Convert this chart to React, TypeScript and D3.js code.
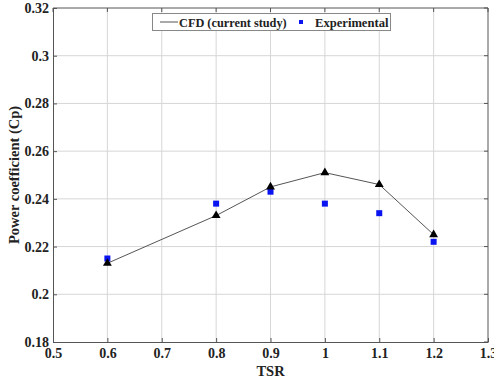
import { useEffect, useRef } from 'react'
import * as d3 from 'd3'

const tsr = [0.6, 0.8, 0.9, 1.0, 1.1, 1.2]
const cfd = [0.213, 0.233, 0.245, 0.251, 0.246, 0.225]
const experimental = [0.215, 0.238, 0.243, 0.238, 0.234, 0.222]
const xTicks = [0.5, 0.6, 0.7, 0.8, 0.9, 1, 1.1, 1.2, 1.3]
const yTicks = [0.18, 0.2, 0.22, 0.24, 0.26, 0.28, 0.3, 0.32]

function Chart({ width = 494, height = 380, marginTop = 8, marginRight = 6, marginBottom = 38, marginLeft = 53 }) {
    const ref = useRef<SVGSVGElement | null>(null)

    useEffect(() => {
        const svg = d3.select(ref.current)
        svg.selectAll("*").remove()

        const font = "'Liberation Serif', 'Times New Roman', serif"

        const x = d3.scaleLinear().domain([0.5, 1.3]).range([marginLeft, width - marginRight])
        const y = d3.scaleLinear().domain([0.18, 0.32]).range([height - marginBottom, marginTop])

        svg.append("rect")
            .attr("width", width).attr("height", height).attr("fill", "white")

        // grid
        svg.append("g")
            .selectAll("line")
            .data(xTicks.slice(1, -1))
            .join("line")
            .attr("x1", d => x(d)).attr("x2", d => x(d))
            .attr("y1", y(0.18)).attr("y2", y(0.32))
            .attr("stroke", "#d6d6d6").attr("stroke-width", 1)

        svg.append("g")
            .selectAll("line")
            .data(yTicks.slice(1, -1))
            .join("line")
            .attr("x1", x(0.5)).attr("x2", x(1.3))
            .attr("y1", d => y(d)).attr("y2", d => y(d))
            .attr("stroke", "#d6d6d6").attr("stroke-width", 1)

        // axes
        const xAxis = svg.append("g")
            .attr("transform", `translate(0,${height - marginBottom})`)
            .call(d3.axisBottom(x).tickValues(xTicks).tickFormat(d => String(d)).tickSizeInner(-4).tickSizeOuter(0).tickPadding(6))
        const yAxis = svg.append("g")
            .attr("transform", `translate(${marginLeft},0)`)
            .call(d3.axisLeft(y).tickValues(yTicks).tickFormat(d => String(d)).tickSizeInner(-4).tickSizeOuter(0).tickPadding(4))

        for (const g of [xAxis, yAxis]) {
            g.selectAll("path, line").attr("stroke", "#555")
            g.selectAll("text")
                .attr("fill", "#222")
                .attr("font-family", font)
                .attr("font-weight", "bold")
                .attr("font-size", 14)
        }

        // top and right box edges with inner ticks
        svg.append("line")
            .attr("x1", x(0.5)).attr("x2", x(1.3)).attr("y1", y(0.32)).attr("y2", y(0.32))
            .attr("stroke", "#555")
        svg.append("line")
            .attr("x1", x(1.3)).attr("x2", x(1.3)).attr("y1", y(0.32)).attr("y2", y(0.18))
            .attr("stroke", "#555")
        svg.append("g")
            .selectAll("line")
            .data(yTicks)
            .join("line")
            .attr("x1", x(1.3) - 4).attr("x2", x(1.3))
            .attr("y1", d => y(d)).attr("y2", d => y(d))
            .attr("stroke", "#555")
        svg.append("g")
            .selectAll("line")
            .data(xTicks)
            .join("line")
            .attr("x1", d => x(d)).attr("x2", d => x(d))
            .attr("y1", y(0.32)).attr("y2", y(0.32) + 4)
            .attr("stroke", "#555")

        // axis titles
        svg.append("text")
            .attr("x", (x(0.5) + x(1.3)) / 2).attr("y", 376)
            .attr("text-anchor", "middle")
            .attr("font-family", font).attr("font-weight", "bold").attr("font-size", 14.5)
            .attr("fill", "#222")
            .text("TSR")
        svg.append("text")
            .attr("transform", `translate(19,${(y(0.18) + y(0.32)) / 2}) rotate(-90)`)
            .attr("text-anchor", "middle")
            .attr("font-family", font).attr("font-weight", "bold").attr("font-size", 14.5)
            .attr("fill", "#222")
            .text("Power coefficient (Cp)")

        // CFD line
        const pts = tsr.map((t, i) => [t, cfd[i]] as [number, number])
        svg.append("path")
            .datum(pts)
            .attr("fill", "none")
            .attr("stroke", "#555")
            .attr("stroke-width", 1)
            .attr("d", d3.line<[number, number]>().x(d => x(d[0])).y(d => y(d[1])))

        // experimental squares
        svg.append("g")
            .selectAll("rect")
            .data(tsr.map((t, i) => [t, experimental[i]]))
            .join("rect")
            .attr("x", d => x(d[0]) - 3).attr("y", d => y(d[1]) - 3)
            .attr("width", 6).attr("height", 6)
            .attr("fill", "#0a14f0")

        // CFD triangles
        svg.append("g")
            .selectAll("path")
            .data(pts)
            .join("path")
            .attr("transform", d => `translate(${x(d[0])},${y(d[1])})`)
            .attr("d", d3.symbol(d3.symbolTriangle, 34)())
            .attr("fill", "black")

        // legend
        const lg = svg.append("g")
        lg.append("rect")
            .attr("x", 152.5).attr("y", 13.5).attr("width", 238).attr("height", 17)
            .attr("fill", "white").attr("stroke", "#888")
        lg.append("line")
            .attr("x1", 160).attr("x2", 178).attr("y1", 22).attr("y2", 22)
            .attr("stroke", "#555")
        lg.append("text")
            .attr("x", 179).attr("y", 26.5)
            .attr("font-family", font).attr("font-weight", "bold").attr("font-size", 12.3)
            .attr("fill", "#222")
            .text("CFD (current study)")
        lg.append("rect")
            .attr("x", 299).attr("y", 20).attr("width", 4).attr("height", 4)
            .attr("fill", "#0a14f0")
        lg.append("text")
            .attr("x", 315).attr("y", 26.5)
            .attr("font-family", font).attr("font-weight", "bold").attr("font-size", 12.6)
            .attr("fill", "#222")
            .text("Experimental")
    }, [])

    return <svg ref={ref} width={width} height={height} style={{ display: 'block' }}></svg>
}

export default function App() {
    return (
        <div style={{ position: 'absolute', left: 0, top: 0 }}>
            <Chart />
        </div>
    )
}
